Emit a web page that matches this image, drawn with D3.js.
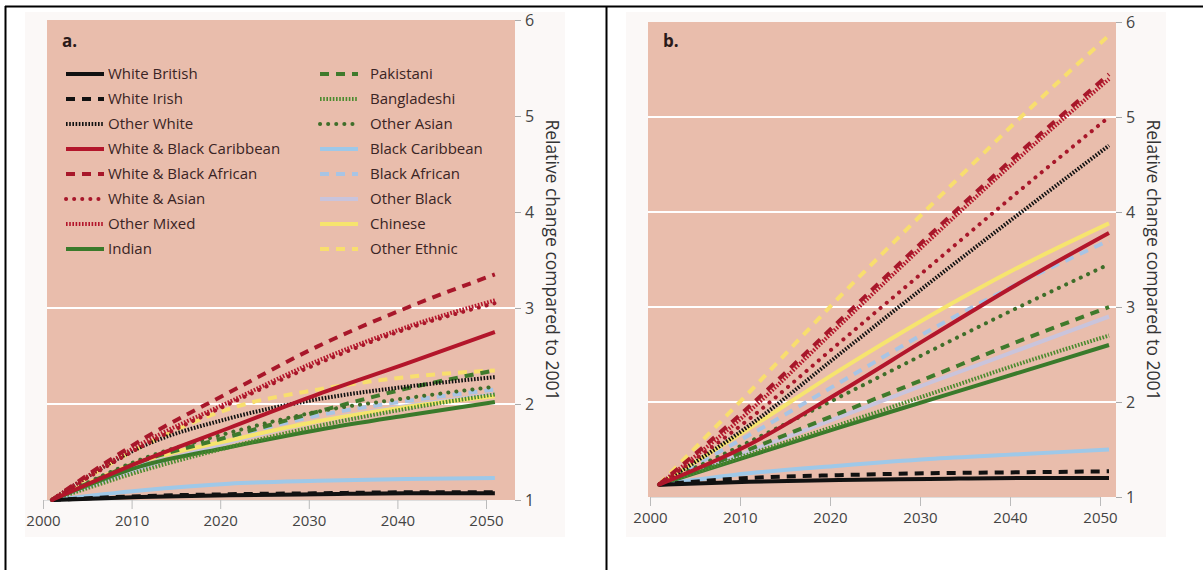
<!DOCTYPE html>
<html><head><meta charset="utf-8">
<script src="https://cdn.jsdelivr.net/npm/d3@7"></script>
<style>body{margin:0;background:#fff;}svg{display:block;}text{font-family:"Open Sans",sans-serif;}</style>
</head><body>
<svg id="c" width="1203" height="570"></svg>
<script>
const years = [2001, 2011, 2021, 2031, 2041, 2051];
const xTicks = [2000, 2010, 2020, 2030, 2040, 2050];
const yTicks = [1, 2, 3, 4, 5, 6];
const groups = ["White British","White Irish","Other White","White & Black Caribbean","White & Black African","White & Asian","Other Mixed","Indian","Pakistani","Bangladeshi","Other Asian","Black Caribbean","Black African","Other Black","Chinese","Other Ethnic"];
const colors = ["#111111","#111111","#111111","#b3162b","#a8172a","#a8172a","#b3162b","#3a7a2b","#3f7a2c","#4a8a2e","#3f6e2a","#9ec8e8","#a8c4e4","#c9c4dc","#f6e46e","#f8de6e"];
const styles = ["solid","dash","fine","solid","dash","dot","fine","solid","dash","fine","dot","solid","dash","solid","solid","dash"];
// Panel a values (relative change), at years[]
const valuesA = [
 [1.00,1.03,1.05,1.06,1.07,1.07],
 [1.00,1.04,1.06,1.07,1.08,1.08],
 [1.00,1.55,1.85,2.05,2.18,2.28],
 [1.00,1.40,1.75,2.10,2.42,2.75],
 [1.00,1.62,2.12,2.60,3.00,3.35],
 [1.00,1.55,2.00,2.42,2.78,3.05],
 [1.00,1.58,2.02,2.45,2.80,3.08],
 [1.00,1.35,1.55,1.73,1.88,2.02],
 [1.00,1.40,1.66,1.92,2.16,2.35],
 [1.00,1.30,1.55,1.77,1.95,2.10],
 [1.00,1.42,1.70,1.92,2.06,2.18],
 [1.00,1.10,1.17,1.20,1.22,1.23],
 [1.00,1.38,1.65,1.88,2.03,2.15],
 [1.00,1.33,1.60,1.82,1.98,2.10],
 [1.00,1.40,1.62,1.82,1.97,2.08],
 [1.00,1.55,1.95,2.15,2.28,2.35]
];
// Panel b values
const valuesB = [
 [1.13,1.16,1.18,1.19,1.20,1.20],
 [1.13,1.20,1.23,1.25,1.26,1.27],
 [1.13,1.75,2.50,3.25,3.98,4.70],
 [1.13,1.55,2.10,2.68,3.25,3.78],
 [1.13,1.95,2.85,3.75,4.62,5.45],
 [1.13,1.82,2.62,3.42,4.22,5.00],
 [1.13,1.90,2.80,3.70,4.57,5.40],
 [1.13,1.43,1.73,2.02,2.31,2.60],
 [1.13,1.50,1.88,2.26,2.64,3.00],
 [1.13,1.45,1.76,2.08,2.40,2.70],
 [1.13,1.58,2.05,2.53,3.00,3.45],
 [1.13,1.25,1.33,1.40,1.45,1.50],
 [1.13,1.65,2.20,2.75,3.25,3.70],
 [1.13,1.48,1.84,2.20,2.55,2.90],
 [1.13,1.72,2.33,2.90,3.42,3.88],
 [1.13,2.10,3.10,4.05,4.98,5.86]
];
const panelLabels = ["a.","b."];
const axisTitle = "Relative change compared to 2001";

const svg = d3.select("#c");
function dashFor(s){ return s==="dash"?"9,7":s==="dot"?"0.1,8":s==="fine"?"1.6,1.6":null; }
function capFor(s){ return s==="dot"?"round":"butt"; }

// frame
svg.append("line").attr("x1",5).attr("x2",1203).attr("y1",6.5).attr("y2",6.5).attr("stroke","#000").attr("stroke-width",2);
svg.append("line").attr("x1",5.5).attr("x2",5.5).attr("y1",6).attr("y2",570).attr("stroke","#000").attr("stroke-width",2);
svg.append("line").attr("x1",606.5).attr("x2",606.5).attr("y1",6).attr("y2",570).attr("stroke","#000").attr("stroke-width",2);

function panel(off, vals, label, legend, xr, yr){
  const g = svg.append("g").attr("transform",`translate(${off},0)`);
  g.append("rect").attr("x",25).attr("y",12).attr("width",540).attr("height",525).attr("fill","#fbf8f7");
  const x = d3.scaleLinear().domain([2000,2050]).range(xr);
  const y = d3.scaleLinear().domain([1,6]).range(yr);
  g.append("rect").attr("x",47).attr("y",y(6)).attr("width",468).attr("height",y(1)-y(6)).attr("fill","#e9bdac");
  // grid
  g.selectAll(".grid").data([2,3,4,5]).join("line").attr("x1",47).attr("x2",515)
    .attr("y1",d=>y(d)).attr("y2",d=>y(d)).attr("stroke","#fff").attr("stroke-width",2);
  // x axis
  const xa = g.append("g").attr("transform",`translate(0,${y(1)})`)
    .call(d3.axisBottom(x).tickValues(xTicks).tickFormat(d3.format("d")).tickSize(9).tickPadding(6));
  xa.select(".domain").attr("stroke","#ddd");
  xa.selectAll(".tick line").attr("stroke","#bbb");
  xa.selectAll("text").attr("font-size",15).attr("fill","#444").attr("font-family","'Open Sans',sans-serif");
  // y axis right
  const ya = g.append("g").attr("transform",`translate(515,0)`)
    .call(d3.axisRight(y).tickValues(yTicks).tickFormat(d3.format("d")).tickSize(6).tickPadding(4));
  ya.select(".domain").remove();
  ya.selectAll(".tick line").attr("stroke","#aaa");
  ya.selectAll("text").attr("font-size",16).attr("fill","#444").attr("font-family","'Open Sans',sans-serif");
  g.append("text").attr("transform",`translate(546,260) rotate(90)`).attr("text-anchor","middle")
    .attr("font-size",17.5).attr("fill","#333").text(axisTitle);
  // legend background
  if(legend){
    g.append("rect").attr("x",47).attr("y",y(6)).attr("width",468).attr("height",255).attr("fill","#e9bdac");
  }
  g.append("text").attr("x",62).attr("y",47).attr("font-size",17).attr("font-weight","bold").attr("fill","#2a1a1a").text(label);
  // lines
  const line = d3.line().x((d,i)=>x(years[i])).y(d=>y(d)).curve(d3.curveMonotoneX);
  const order = [13,12,11,14,15,7,9,8,10,0,1,2,3,5,6,4];
  order.forEach(k=>{
    g.append("path").datum(vals[k]).attr("d",line).attr("fill","none")
     .attr("stroke",colors[k]).attr("stroke-width",4).attr("stroke-dasharray",dashFor(styles[k]))
     .attr("stroke-linecap",capFor(styles[k]));
  });
  if(legend){
    groups.forEach((nm,k)=>{
      const col = k<8?0:1, row = k%8;
      const lx = col===0?66:320, tx = col===0?108:370, ly = 74+row*25;
      g.append("line").attr("x1",lx).attr("x2",lx+38).attr("y1",ly).attr("y2",ly)
        .attr("stroke",colors[k]).attr("stroke-width",4).attr("stroke-dasharray",dashFor(styles[k]))
        .attr("stroke-linecap",capFor(styles[k]));
      g.append("text").attr("x",tx).attr("y",ly+5).attr("font-size",15).attr("fill","#3a2424").text(nm);
    });
  }
}
panel(0, valuesA, panelLabels[0], true, [43,486], [500,20]);
panel(601, valuesB, panelLabels[1], false, [49,499], [497,22]);
</script>
</body></html>
